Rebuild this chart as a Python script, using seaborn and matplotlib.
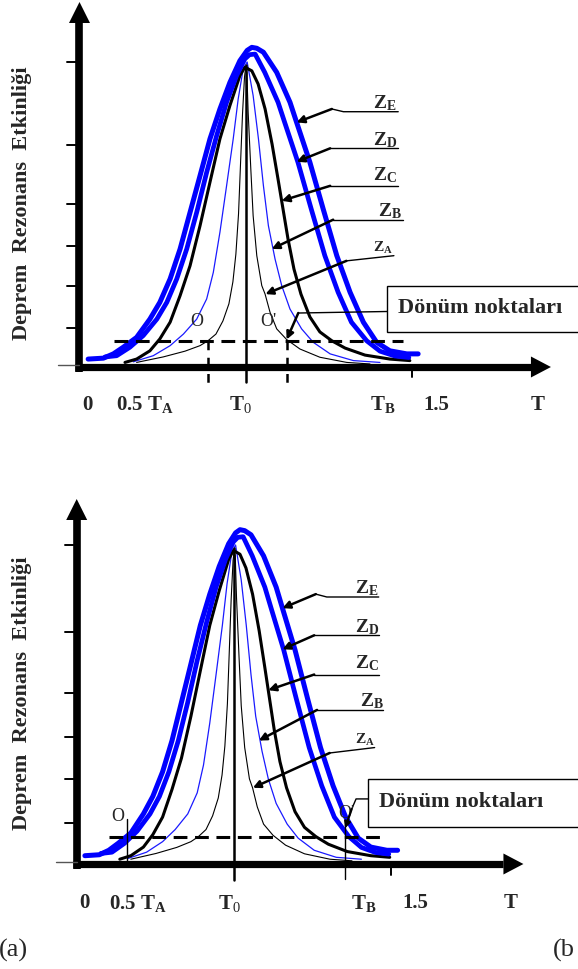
import matplotlib
matplotlib.use("Agg")
import matplotlib.pyplot as plt
import seaborn as sns
from matplotlib.patches import Rectangle

sns.set_theme(style="white")
plt.rcParams['font.family'] = ['Liberation Serif', 'DejaVu Serif']
plt.rcParams['mathtext.fontset'] = 'custom'
plt.rcParams['mathtext.rm'] = 'Liberation Serif'
plt.rcParams['mathtext.it'] = 'Liberation Serif'
plt.rcParams['mathtext.bf'] = 'Liberation Serif:bold'

# ---------------- data (T = period ratio, A = relative resonance effect) -------------
ZE_T = [0.526, 0.572, 0.602, 0.632, 0.672, 0.712, 0.742, 0.773, 0.803, 0.833, 0.863, 0.893,
        0.923, 0.953, 0.983, 1.005, 1.019, 1.034, 1.054, 1.094, 1.134, 1.154, 1.194, 1.234,
        1.275, 1.315, 1.355, 1.395, 1.435, 1.486, 1.520]
ZE_A = [0.026, 0.029, 0.043, 0.065, 0.097, 0.157, 0.212, 0.289, 0.387, 0.507, 0.627, 0.748,
        0.846, 0.933, 1.004, 1.038, 1.048, 1.045, 1.032, 0.966, 0.868, 0.802, 0.671, 0.518,
        0.365, 0.245, 0.147, 0.081, 0.053, 0.043, 0.043]

ZD_T = [0.577, 0.612, 0.652, 0.692, 0.733, 0.763, 0.793, 0.823, 0.853, 0.883, 0.913, 0.943,
        0.973, 0.998, 1.012, 1.029, 1.058, 1.098, 1.118, 1.158, 1.198, 1.239, 1.279, 1.319,
        1.365, 1.405, 1.450, 1.492]
ZD_A = [0.033, 0.037, 0.065, 0.103, 0.157, 0.212, 0.289, 0.387, 0.507, 0.638, 0.758, 0.868,
        0.955, 1.010, 1.024, 1.026, 0.966, 0.868, 0.802, 0.671, 0.518, 0.365, 0.245, 0.147,
        0.086, 0.052, 0.036, 0.031]

ZC_T = [0.637, 0.672, 0.712, 0.742, 0.773, 0.803, 0.833, 0.863, 0.893, 0.923, 0.953, 0.983,
        0.998, 1.019, 1.038, 1.059, 1.080, 1.098, 1.113, 1.128, 1.146, 1.167, 1.194, 1.224,
        1.260, 1.300, 1.360, 1.435, 1.495]
ZC_A = [0.015, 0.026, 0.053, 0.092, 0.147, 0.234, 0.332, 0.463, 0.606, 0.748, 0.857, 0.955,
        0.983, 0.971, 0.928, 0.846, 0.731, 0.616, 0.518, 0.420, 0.321, 0.239, 0.164, 0.115,
        0.086, 0.062, 0.039, 0.026, 0.021]

ZB_T = [0.662, 0.722, 0.773, 0.813, 0.853, 0.883, 0.903, 0.923, 0.943, 0.963, 0.978, 0.993,
        1.005, 1.023, 1.039, 1.054, 1.069, 1.089, 1.109, 1.134, 1.169, 1.204, 1.255, 1.325, 1.405]
ZB_A = [0.017, 0.037, 0.070, 0.108, 0.157, 0.223, 0.310, 0.442, 0.594, 0.748, 0.879, 0.977,
        1.000, 0.890, 0.748, 0.594, 0.463, 0.354, 0.267, 0.190, 0.125, 0.081, 0.043, 0.021, 0.015]

ZA_T = [0.672, 0.752, 0.818, 0.863, 0.887, 0.911, 0.932, 0.950, 0.962, 0.971, 0.979, 0.985,
        0.991, 0.997, 1.000, 1.004, 1.008, 1.016, 1.023, 1.034, 1.049, 1.059, 1.074, 1.094,
        1.124, 1.164, 1.224, 1.305, 1.375]
ZA_A = [0.015, 0.033, 0.052, 0.070, 0.086, 0.108, 0.151, 0.207, 0.279, 0.370, 0.502, 0.666,
        0.830, 0.951, 0.977, 0.966, 0.835, 0.649, 0.496, 0.365, 0.267, 0.239, 0.179, 0.125,
        0.090, 0.059, 0.032, 0.015, 0.010]

Y_TICKS = [0.128, 0.265, 0.397, 0.535, 0.728, 1.0]
X_LABELS = ['0', r'$\mathbf{0.5\ T}_{\mathbf{A}}$', r'$\mathbf{T}_0$', r'$\mathbf{T}_{\mathbf{B}}$', '1.5', 'T']
X_LABEL_POS = [0.524, 0.696, 0.985, 1.412, 1.575, 1.879]

Z_NAMES = [r'$\mathbf{Z}_{\mathbf{E}}$', r'$\mathbf{Z}_{\mathbf{D}}$', r'$\mathbf{Z}_{\mathbf{C}}$',
           r'$\mathbf{Z}_{\mathbf{B}}$', r'$\mathbf{Z}_{\mathbf{A}}$']
DASH_LEVEL = 0.086
T_ZERO = 1.0
T_ONEHALF = 1.5
T_AXIS = 0.5

# inflection points per panel
O_A_T = [0.887, 1.124]      # panel (a)
O_B_T = [0.659, 1.353]      # panel (b)

W, H = 578, 970
fig = plt.figure(figsize=(W / 100, H / 100), dpi=100)
fig.patch.set_facecolor('white')


def panel(top_px, bot_px, t1_px, sx, a0_px, sy):
    ax = fig.add_axes([0, 1 - bot_px / H, 1, (bot_px - top_px) / H])
    ax.set_xlim(1 - t1_px / sx, 1 + (W - t1_px) / sx)
    ax.set_ylim((a0_px - bot_px) / sy, (a0_px - top_px) / sy)
    ax.set_axis_off()
    return ax


def common(ax, sx, sy):
    # curves
    sns.lineplot(x=ZA_T, y=ZA_A, sort=False, estimator=None, ax=ax, color='black', lw=0.8)
    sns.lineplot(x=ZB_T, y=ZB_A, sort=False, estimator=None, ax=ax, color='#1a1aff', lw=0.9)
    sns.lineplot(x=ZC_T, y=ZC_A, sort=False, estimator=None, ax=ax, color='black', lw=2.2,
                 solid_joinstyle='round')
    sns.lineplot(x=ZD_T, y=ZD_A, sort=False, estimator=None, ax=ax, color='#0000ff', lw=3.4,
                 solid_joinstyle='round', solid_capstyle='round')
    sns.lineplot(x=ZE_T, y=ZE_A, sort=False, estimator=None, ax=ax, color='#0000ff', lw=3.6,
                 solid_joinstyle='round', solid_capstyle='round')
    # axes with arrow heads
    hx = 10.5 / sx
    hy = 10.5 / sy
    ytip = 365 / sy
    ybase = ytip - 21 / sy
    ax.plot([T_AXIS, T_AXIS], [-5 / sy, ybase], color='black', lw=5.5, solid_capstyle='butt')
    ax.fill([T_AXIS - hx, T_AXIS + hx, T_AXIS], [ybase, ybase, ytip], color='black', lw=0)
    xtip = 1.92
    xbase = xtip - 20 / sx
    ax.plot([T_AXIS - 4 / sx, xbase], [0, 0], color='black', lw=5.2, solid_capstyle='butt')
    ax.fill([xbase, xbase, xtip], [-hy, hy, 0], color='black', lw=0)
    # y ticks
    for a in Y_TICKS:
        ax.plot([T_AXIS - 12 / sx, T_AXIS], [a, a], color='black', lw=1.4)
    ax.plot([T_AXIS - 21 / sx, T_AXIS], [0.007, 0.007], color='#555555', lw=1.0)
    # T0 line and 1.5 tick
    ax.plot([T_ZERO, T_ZERO], [-0.05, 0.99], color='black', lw=1.8)
    ax.plot([T_ONEHALF, T_ONEHALF], [0, -0.033], color='black', lw=1.4)
    # dashed level
    ax.plot([0.603, 1.475], [DASH_LEVEL, DASH_LEVEL], color='black', lw=2.2,
            dashes=(4.5, 2.5))
    # x labels
    for lab, t in zip(X_LABELS, X_LABEL_POS):
        ax.text(t, -0.12, lab, ha='center', va='center', fontsize=15, fontweight='bold')
    # y label
    ax.text(0.327, 0.54, 'Deprem  Rezonans  Etkinliği', rotation=90, ha='center', va='center',
            fontsize=16, fontweight='bold')
    # Z labels with leaders
    lab_pos = [(1.384, 0.851), (1.384, 0.731), (1.384, 0.616), (1.400, 0.496), (1.384, 0.381)]
    lab_size = [14, 14, 14, 14, 11]
    thin = [([1.460, 1.295, 1.260], [0.837, 0.837, 0.846]),
            ([1.460, 1.255], [0.717, 0.717]),
            ([1.460, 1.255], [0.594, 0.594]),
            ([1.475, 1.264], [0.483, 0.483]),
            ([1.447, 1.304], [0.365, 0.348])]
    tips = [(1.154, 0.802), (1.154, 0.673), (1.109, 0.545), (1.079, 0.387), (1.060, 0.239)]
    for name, (tx, ty), fs, (lx, ly), tip in zip(Z_NAMES, lab_pos, lab_size, thin, tips):
        ax.text(tx, ty, name, ha='left', va='baseline', fontsize=fs)
        ax.plot(lx, ly, color='black', lw=1.0)
        ax.annotate('', xy=tip, xytext=(lx[-1], ly[-1]),
                    arrowprops=dict(arrowstyle='-|>', color='black', lw=1.8,
                                    mutation_scale=11, shrinkA=0, shrinkB=0))
    # Dönüm noktaları box
    ax.add_patch(Rectangle((1.427, 0.115), 0.8, 0.151, facecolor='white', edgecolor='black',
                           lw=1.0, zorder=3))
    ax.text(1.460, 0.197, 'Dönüm noktaları', ha='left', va='center', fontsize=16,
            fontweight='bold', zorder=4)


# ---------------- panel (a) ----------------
axA = panel(0, 470, 245.5, 332, 368, 305)
common(axA, 332, 305)
for t in O_A_T:
    axA.plot([t, t], [DASH_LEVEL, -0.062], color='black', lw=1.8, dashes=(3.5, 3))
axA.text(0.853, 0.152, 'O', ha='center', va='center', fontsize=13)
axA.text(1.068, 0.152, "O'", ha='center', va='center', fontsize=13)
axA.plot([1.427, 1.159], [0.182, 0.177], color='black', lw=1.0)
axA.annotate('', xy=(O_A_T[1], 0.090), xytext=(1.159, 0.177),
             arrowprops=dict(arrowstyle='-|>', color='black', lw=1.8, mutation_scale=11,
                             shrinkA=0, shrinkB=0))
axA.set_xlim(1 - 245.5 / 332, 1 + (W - 245.5) / 332)
axA.set_ylim((368 - 470) / 305, 368 / 305)

# ---------------- panel (b) ----------------
axB = panel(470, 970, 234, 314.6, 865, 319)
common(axB, 314.6, 319)
axB.plot([O_B_T[0], O_B_T[0]], [0.141, 0.006], color='black', lw=1.0)
axB.plot([O_B_T[1], O_B_T[1]], [0.120, -0.047], color='black', lw=1.0)
axB.text(0.632, 0.151, 'O', ha='center', va='center', fontsize=13)
axB.text(1.358, 0.162, "O'", ha='center', va='center', fontsize=13)
axB.plot([1.427, 1.388, 1.374], [0.204, 0.204, 0.172], color='black', lw=1.0)
axB.annotate('', xy=(O_B_T[1], 0.112), xytext=(1.374, 0.172),
             arrowprops=dict(arrowstyle='-|>', color='black', lw=1.6, mutation_scale=9,
                             shrinkA=0, shrinkB=0))
axB.set_xlim(1 - 234 / 314.6, 1 + (W - 234) / 314.6)
axB.set_ylim((865 - 970) / 319, (865 - 470) / 319)

fig.text(-1 / W, 1 - 950 / H, '(a)', ha='left', va='center', fontsize=19)
fig.text(553 / W, 1 - 950 / H, '(b', ha='left', va='center', fontsize=19)

fig.savefig('out.png', dpi=100, facecolor='white')
